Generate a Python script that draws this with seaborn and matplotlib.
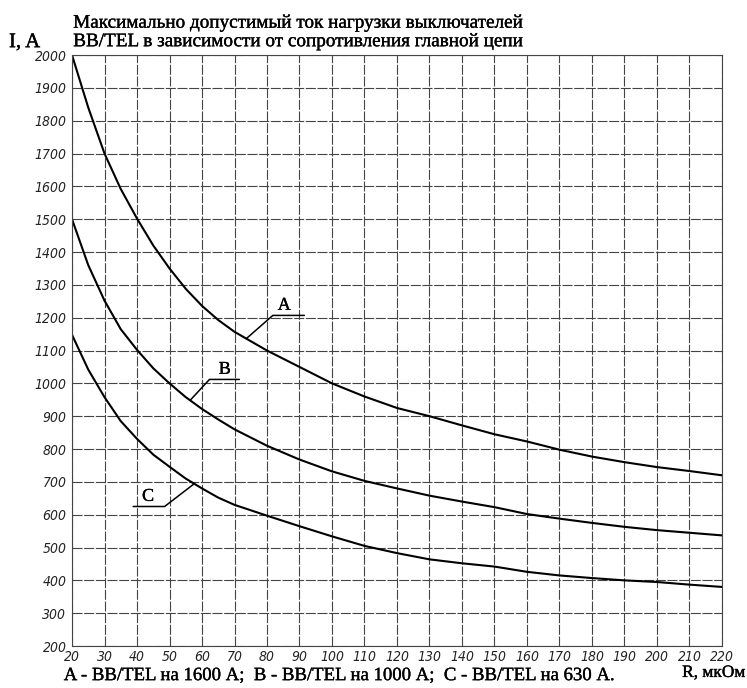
import numpy as np
import pandas as pd
import matplotlib
matplotlib.use("Agg")
import matplotlib.pyplot as plt
import matplotlib.patheffects as pe
import seaborn as sns

R = [20, 25, 30, 35, 40, 45, 50, 55, 60, 65, 70, 80, 90, 100, 110, 120, 130, 140,
     150, 160, 170, 180, 190, 200, 210, 220]
I_A = [2000, 1840, 1700, 1592, 1502, 1420, 1350, 1288, 1236, 1193, 1157, 1100, 1050,
       1000, 960, 925, 900, 872, 845, 823, 798, 777, 760, 745, 733, 720]
I_B = [1500, 1360, 1252, 1165, 1102, 1046, 1000, 958, 922, 890, 860, 810, 768,
       732, 703, 680, 658, 640, 623, 602, 588, 575, 563, 553, 545, 537]
I_C = [1148, 1042, 958, 885, 831, 783, 746, 710, 680, 652, 630, 597, 565,
       534, 505, 483, 464, 452, 442, 426, 415, 407, 400, 395, 387, 380]
series_names = ["A", "B", "C"]
x_ticks = list(range(20, 221, 10))
y_ticks = list(range(200, 2001, 100))
title = "Максимально допустимый ток нагрузки выключателей\nBB/TEL в зависимости от сопротивления главной цепи"
footer = "A - BB/TEL на 1600 А;  B - BB/TEL на 1000 А;  C - BB/TEL на 630 А."
xlabel = "R, мкОм"
ylabel = "I, A"

df = pd.concat([
    pd.DataFrame({"R": R, "I": I_A, "s": series_names[0]}),
    pd.DataFrame({"R": R, "I": I_B, "s": series_names[1]}),
    pd.DataFrame({"R": R, "I": I_C, "s": series_names[2]}),
])

sns.set_theme(style="white")
plt.rcParams["font.family"] = ["Liberation Serif", "DejaVu Serif"]

fig = plt.figure(figsize=(7.47, 6.88), dpi=100)
ax = fig.add_axes([0.0964, 0.0610, 0.8701, 0.8590])

sns.lineplot(data=df, x="R", y="I", hue="s", palette=["black"] * 3,
             legend=False, linewidth=1.5, ax=ax)

ax.set_xlim(20, 220)
ax.set_ylim(200, 2000)
ax.set_xticks(x_ticks)
ax.set_yticks(y_ticks)
ax.grid(True, color="#444444", linewidth=0.8, linestyle=(0, (9, 1.5)))
ax.tick_params(axis="y", length=0, pad=4)
ax.tick_params(axis="x", length=0, pad=3)
for lab in ax.get_xticklabels() + ax.get_yticklabels():
    lab.set_family("DejaVu Sans")
    lab.set_style("italic")
    lab.set_stretch("condensed")
    lab.set_fontsize(10)
    lab.set_color("#222222")
for sp in ax.spines.values():
    sp.set_color("#444444")
    sp.set_linewidth(0.8)
ax.set_xlabel("")
ax.set_ylabel("")

thick = [pe.withStroke(linewidth=0.25, foreground="black")]

# leader lines and labels
lw = 1.1
ax.plot([73.6, 81.8, 91.5], [1136, 1207, 1207], color="black", linewidth=lw)
ax.text(85.3, 1212, "A", fontsize=13, ha="center", va="bottom", color="black",
        path_effects=thick)
ax.plot([56.4, 62.3, 71.5], [949, 1012, 1012], color="black", linewidth=lw)
ax.text(67, 1017, "B", fontsize=13, ha="center", va="bottom", color="black",
        path_effects=thick)
ax.plot([57.7, 48.5, 38.8], [695, 625, 625], color="black", linewidth=lw)
ax.text(43.4, 630, "C", fontsize=13, ha="center", va="bottom", color="black",
        path_effects=thick)

fig.text(0.098, 0.927, title, fontsize=13.8, ha="left", va="bottom",
         linespacing=1.12, color="black", path_effects=thick)
fig.text(0.012, 0.938, ylabel, fontsize=15, ha="left", va="center", color="black",
         path_effects=thick)
fig.text(0.455, 0.018, footer, fontsize=13.5, ha="center", va="center", color="black",
         path_effects=thick)
fig.text(0.998, 0.0335, xlabel, fontsize=12.5, ha="right", va="top", color="black",
         path_effects=thick)

fig.savefig("out.png", dpi=100)
